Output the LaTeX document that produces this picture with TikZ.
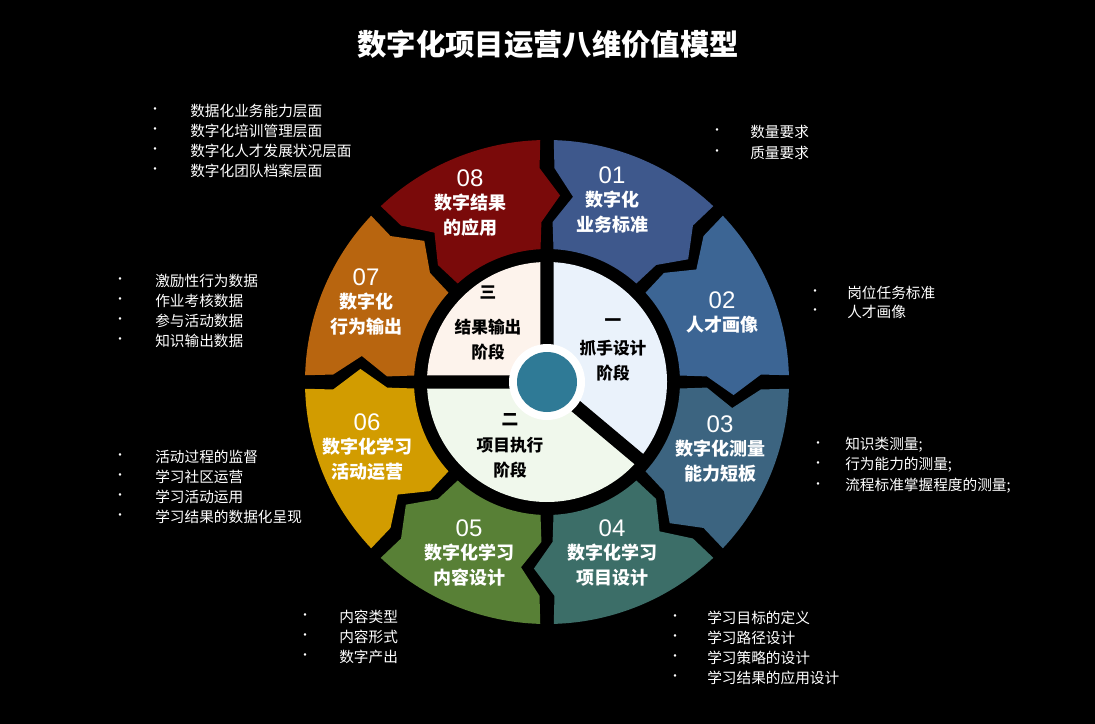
\documentclass[tikz,border=0pt]{standalone}
\usepackage{fontspec}
\setmainfont{Noto Sans CJK SC}
\newfontfamily\numfont{Liberation Sans}
\definecolor{c1}{RGB}{62,88,140}
\definecolor{c2}{RGB}{60,101,148}
\definecolor{c3}{RGB}{60,100,128}
\definecolor{c4}{RGB}{60,110,104}
\definecolor{c5}{RGB}{88,128,54}
\definecolor{c6}{RGB}{210,156,0}
\definecolor{c7}{RGB}{184,101,15}
\definecolor{c8}{RGB}{122,10,10}
\definecolor{s1}{RGB}{234,242,251}
\definecolor{s2}{RGB}{240,248,236}
\definecolor{s3}{RGB}{253,243,236}
\definecolor{hub}{RGB}{47,122,150}
\begin{document}
\begin{tikzpicture}[x=0.75pt,y=-0.75pt,
  num/.style={text=white,font=\numfont\fontsize{18}{20}\selectfont},
  lab/.style={text=white,font=\bfseries\fontsize{13.5}{15}\selectfont},
  inl/.style={text=black,font=\bfseries\fontsize{12.5}{14}\selectfont},
  item/.style={text=white,anchor=west,font=\fontsize{11}{13}\selectfont,inner sep=0pt},
  dot/.style={text=white,font=\fontsize{9}{10}\selectfont,inner sep=0pt}]
\fill[black] (0,0) rectangle (1095,724);
\useasboundingbox (0,0) rectangle (1095,724);
\node[text=white,font=\bfseries\fontsize{22}{24}\selectfont] (title) at (548,44) {数字化项目运营八维价值模型};
\newcommand\seg[3]{%
 \pgfmathsetmacro\Aa{#1-1.6}\pgfmathsetmacro\Ab{#1-2}\pgfmathsetmacro\Ac{#1-8}\pgfmathsetmacro\Ad{#1-2.8}%
 \pgfmathsetmacro\Ba{#2+1.6}\pgfmathsetmacro\Bb{#2+2}\pgfmathsetmacro\Bc{#2-4}\pgfmathsetmacro\Bd{#2+2.8}%
 \fill[#3] (\Aa:242) arc[start angle=\Aa,end angle=\Ba,radius=242]
  -- (\Bb:214) -- (\Bc:187) -- (\Bb:160) -- (\Bd:133)
  arc[start angle=\Bd,end angle=\Ad,radius=133]
  -- (\Ab:160) -- (\Ac:187) -- (\Ab:214) -- cycle;}
\begin{scope}[shift={(547,382)},yscale=-1]
\seg{90}{45}{c1}
\seg{45}{0}{c2}
\seg{0}{-45}{c3}
\seg{-45}{-90}{c4}
\seg{-90}{-135}{c5}
\seg{-135}{-180}{c6}
\seg{180}{135}{c7}
\seg{135}{90}{c8}
\fill[s1] (0,0) -- (90:120) arc[start angle=90,end angle=-40,radius=120] -- cycle;
\fill[s2] (0,0) -- (-40:120) arc[start angle=-40,end angle=-180,radius=120] -- cycle;
\fill[s3] (0,0) -- (180:120) arc[start angle=180,end angle=90,radius=120] -- cycle;
\coordinate (o) at (0,0);
\coordinate (b1) at (90:125);\coordinate (b2) at (-40:125);\coordinate (b3) at (180:125);
\draw[black,line width=10pt] (o) -- (b1) (o) -- (b2) (o) -- (b3);
\fill[white] (o) circle[radius=38];
\fill[hub] (o) circle[radius=30];
\end{scope}
\newcommand\lab[6]{\node[num] (n#1) at (#2,#3) {#1};
 \node[lab] (a#1) at (#2,#3+25) {#4};\node[lab] (b#1) at (#2,#3+50) {#5};}
\lab{01}{612}{175}{数字化}{业务标准}{}
\node[num] (n02) at (722,300) {02};\node[lab] (a02) at (722,325) {人才画像};
\lab{03}{720}{424}{数字化测量}{能力短板}{}
\lab{04}{612}{528}{数字化学习}{项目设计}{}
\lab{05}{469}{528}{数字化学习}{内容设计}{}
\lab{06}{367}{422}{数字化学习}{活动运营}{}
\lab{07}{366}{277}{数字化}{行为输出}{}
\lab{08}{470}{178}{数字结果}{的应用}{}
\node[inl] (i1a) at (613,323) {一};\node[inl] (i1b) at (613,348) {抓手设计};\node[inl] (i1c) at (613,373) {阶段};
\node[inl] (i3a) at (488,293) {三};\node[inl] (i3b) at (488,327) {结果输出};\node[inl] (i3c) at (488,352) {阶段};
\node[inl] (i2a) at (510,420) {二};\node[inl] (i2b) at (510,445) {项目执行};\node[inl] (i2c) at (510,470) {阶段};
\newcommand\itm[5]{\node[dot] (d#1) at (#2,#4) {•};\node[item] (t#1) at (#3,#4) {#5};}
\itm{a1}{155}{190}{111}{数据化业务能力层面}
\itm{a2}{155}{190}{131}{数字化培训管理层面}
\itm{a3}{155}{190}{151}{数字化人才发展状况层面}
\itm{a4}{155}{190}{171}{数字化团队档案层面}
\itm{b1}{717}{750}{132}{数量要求}
\itm{b2}{717}{750}{153}{质量要求}
\itm{c1}{815}{847}{293}{岗位任务标准}
\itm{c2}{815}{847}{312}{人才画像}
\itm{e1}{818}{845}{445}{知识类测量;}
\itm{e2}{818}{845}{465}{行为能力的测量;}
\itm{e3}{818}{845}{486}{流程标准掌握程度的测量;}
\itm{f1}{675}{707}{618}{学习目标的定义}
\itm{f2}{675}{707}{638}{学习路径设计}
\itm{f3}{675}{707}{658}{学习策略的设计}
\itm{f4}{675}{707}{678}{学习结果的应用设计}
\itm{g1}{305}{339}{617}{内容类型}
\itm{g2}{305}{339}{637}{内容形式}
\itm{g3}{305}{339}{657}{数字产出}
\itm{h1}{120}{155}{457}{活动过程的监督}
\itm{h2}{120}{155}{477}{学习社区运营}
\itm{h3}{120}{155}{497}{学习活动运用}
\itm{h4}{120}{155}{517}{学习结果的数据化呈现}
\itm{k1}{120}{155}{281}{激励性行为数据}
\itm{k2}{120}{155}{301}{作业考核数据}
\itm{k3}{120}{155}{321}{参与活动数据}
\itm{k4}{120}{155}{341}{知识输出数据}
\end{tikzpicture}
\end{document}
